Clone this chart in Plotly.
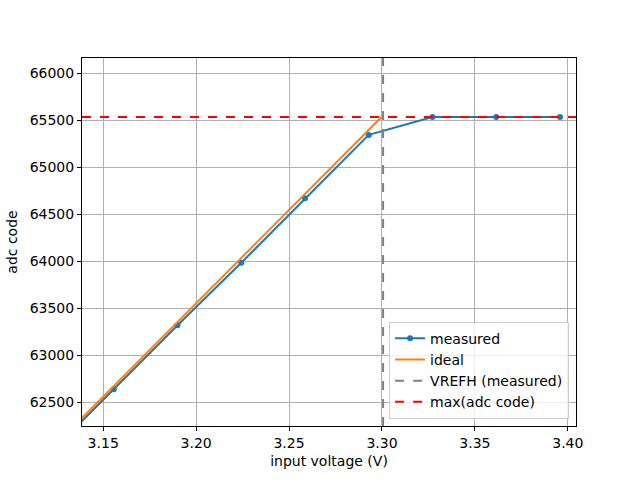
import plotly.graph_objects as go

# measured data
voltage = [3.1214, 3.1557, 3.1900, 3.2243, 3.2586, 3.2929, 3.3272, 3.3615, 3.3958]
adc_code = [61960, 62640, 63320, 63985, 64670, 65345, 65535, 65535, 65535]

# ideal transfer line
ideal_voltage = [3.1214, 3.2998]
ideal_code = [61992, 65535]

vrefh = 3.3006
max_code = 65535

x_ticks = [3.15, 3.20, 3.25, 3.30, 3.35, 3.40]
y_ticks = [62500, 63000, 63500, 64000, 64500, 65000, 65500, 66000]

fig = go.Figure()
fig.add_trace(go.Scatter(x=voltage, y=adc_code, mode="lines+markers", name="measured",
                         line=dict(color="#1f77b4", width=2), marker=dict(size=6, color="#1f77b4")))
fig.add_trace(go.Scatter(x=ideal_voltage, y=ideal_code, mode="lines", name="ideal",
                         line=dict(color="#ff7f0e", width=2)))
fig.add_shape(type="line", xref="x", yref="y domain", x0=vrefh, x1=vrefh, y0=0, y1=1,
              line=dict(color="gray", width=2, dash="dash"), showlegend=True, name="VREFH (measured)")
fig.add_shape(type="line", xref="x domain", yref="y", x0=0, x1=1, y0=max_code, y1=max_code,
              line=dict(color="red", width=2, dash="dash"), showlegend=True, name="max(adc code)")

axis_common = dict(showline=True, linecolor="black", linewidth=1, mirror=True,
                   ticks="outside", ticklen=4, tickcolor="black",
                   showgrid=True, gridcolor="#b0b0b0", gridwidth=1, zeroline=False,
                   tickfont=dict(family="DejaVu Sans", size=14, color="black"))

fig.update_layout(
    width=640, height=480,
    margin=dict(l=80, r=64, t=58, b=54),
    plot_bgcolor="white", paper_bgcolor="white",
    font=dict(family="DejaVu Sans", size=14, color="black"),
    xaxis=dict(range=[3.1386, 3.4044], tickvals=x_ticks, ticktext=[f"{t:.2f}" for t in x_ticks],
               title=dict(text="input voltage (V)", standoff=6,
                          font=dict(family="DejaVu Sans", size=14)), **axis_common),
    yaxis=dict(range=[62248, 66163], tickvals=y_ticks, ticktext=[str(t) for t in y_ticks],
               title=dict(text="adc code", standoff=8,
                          font=dict(family="DejaVu Sans", size=14)), **axis_common),
    legend=dict(x=0.986, y=0.02, xanchor="right", yanchor="bottom",
                bgcolor="rgba(255,255,255,0.8)", bordercolor="#cccccc", borderwidth=1,
                font=dict(family="DejaVu Sans", size=14), tracegroupgap=0, itemwidth=30),
    showlegend=True,
)

fig.write_html("out.html")
